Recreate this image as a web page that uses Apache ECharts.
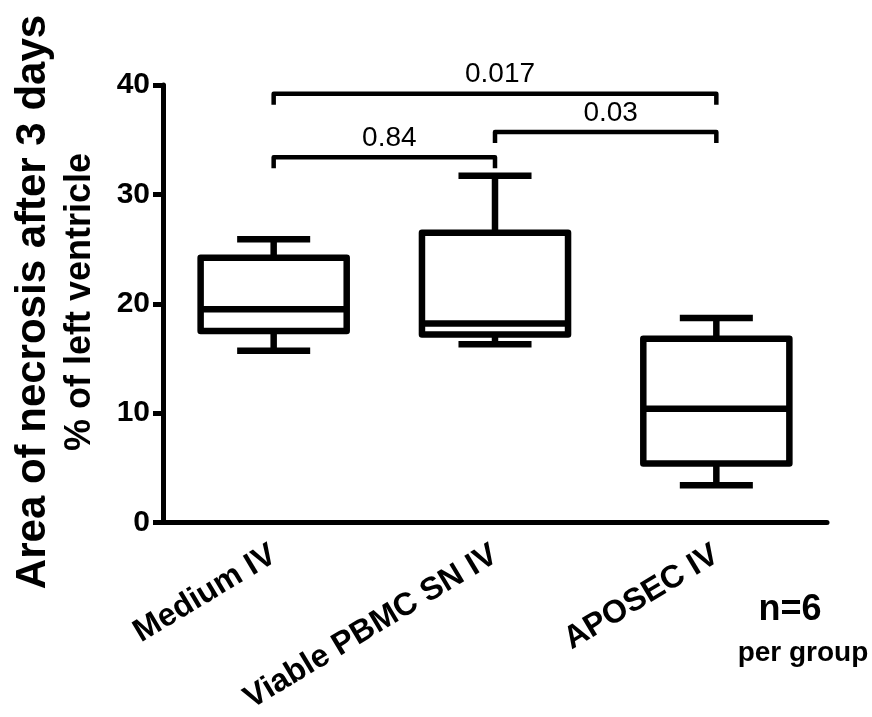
<!DOCTYPE html>
<html>
<head>
<meta charset="utf-8">
<script src="https://cdn.jsdelivr.net/npm/echarts@6/dist/echarts.min.js"></script>
<style>
  html, body { margin: 0; padding: 0; background: #fff; }
  #grafik { width: 872px; height: 717px; }
</style>
</head>
<body>
<div id="grafik"></div>
<script>
var groups = ['Medium IV', 'Viable PBMC SN IV', 'APOSEC IV'];
// min, q1, median, q3, max per group
var whiskerLow = [15.7, 16.3, 3.4];
var boxLow = [17.5, 17.2, 5.4];
var medians = [19.5, 18.2, 10.4];
var boxHigh = [24.2, 26.5, 16.8];
var whiskerHigh = [25.9, 31.7, 18.7];

// p-value brackets
var bracketFrom = [0, 1, 0];
var bracketTo = [1, 2, 2];
var bracketY = [33.4, 35.7, 39.2];
var bracketText = ['0.84', '0.03', '0.017'];

var font = '"Liberation Sans", Arial, sans-serif';
var grafik = echarts.init(document.getElementById('grafik'));

var boxData = groups.map(function (g, i) {
  return [i, whiskerLow[i], boxLow[i], medians[i], boxHigh[i], whiskerHigh[i]];
});
var bracketData = bracketText.map(function (t, i) {
  return [bracketFrom[i], bracketTo[i], bracketY[i]];
});

function renderBox(params, api) {
  var x = api.value(0);
  var band = api.size([1, 0])[0];
  var half = band * 0.33;
  var cap = half / 2;
  var lo = api.coord([x, api.value(1)]);
  var q1 = api.coord([x, api.value(2)]);
  var md = api.coord([x, api.value(3)]);
  var q3 = api.coord([x, api.value(4)]);
  var hi = api.coord([x, api.value(5)]);
  var cx = lo[0];
  var st = { stroke: '#000', lineWidth: 6.5, fill: null };
  return {
    type: 'group',
    children: [
      { type: 'line', shape: { x1: cx, y1: q1[1], x2: cx, y2: lo[1] }, style: st },
      { type: 'line', shape: { x1: cx - cap, y1: lo[1], x2: cx + cap, y2: lo[1] }, style: st },
      { type: 'line', shape: { x1: cx, y1: q3[1], x2: cx, y2: hi[1] }, style: st },
      { type: 'line', shape: { x1: cx - cap, y1: hi[1], x2: cx + cap, y2: hi[1] }, style: st },
      { type: 'rect', shape: { x: cx - half, y: q3[1], width: half * 2, height: q1[1] - q3[1] },
        style: { stroke: '#000', lineWidth: 6.5, fill: '#fff', lineJoin: 'round' } },
      { type: 'line', shape: { x1: cx - half, y1: md[1], x2: cx + half, y2: md[1] }, style: st }
    ]
  };
}

function renderBracket(params, api) {
  var a = api.coord([api.value(0), api.value(2)]);
  var b = api.coord([api.value(1), api.value(2)]);
  var drop = 11;
  return {
    type: 'group',
    children: [
      { type: 'polyline',
        shape: { points: [[a[0], a[1] + drop], a, b, [b[0], b[1] + drop]] },
        style: { stroke: '#000', lineWidth: 4.5, fill: null, lineJoin: 'round' } },
      { type: 'text', x: (a[0] + b[0]) / 2 + 5, y: a[1] - 5,
        style: { text: bracketText[params.dataIndex], font: '28px ' + font,
                 fill: '#000', align: 'center', verticalAlign: 'bottom' } }
    ]
  };
}

var option = {
  animation: false,
  grid: { left: 163, right: 45, top: 85, bottom: 194.5 },
  xAxis: {
    type: 'category',
    data: groups,
    axisLine: { lineStyle: { color: '#000', width: 5 } },
    axisTick: { alignWithLabel: true, length: 10, lineStyle: { color: '#000', width: 4.5 } },
    axisLabel: { rotate: 31, margin: 30, color: '#000', fontSize: 32, fontWeight: 'bold', fontFamily: font },
    splitLine: { show: false }
  },
  yAxis: {
    type: 'value',
    min: 0,
    max: 40,
    interval: 10,
    axisLine: { show: true, lineStyle: { color: '#000', width: 5 } },
    axisTick: { show: true, length: 10, lineStyle: { color: '#000', width: 5 } },
    axisLabel: { margin: 13, color: '#000', fontSize: 30, fontWeight: 'bold', fontFamily: font },
    splitLine: { show: false }
  },
  graphic: [
    { type: 'text', x: 33, y: 302, rotation: Math.PI / 2,
      style: { text: 'Area of necrosis after 3 days', font: 'bold 42px ' + font, fill: '#000',
               align: 'center', verticalAlign: 'middle' } },
    { type: 'text', x: 80, y: 302, rotation: Math.PI / 2,
      style: { text: '% of left ventricle', font: 'bold 36px ' + font, fill: '#000',
               align: 'center', verticalAlign: 'middle' } },
    { type: 'text', x: 790, y: 610,
      style: { text: 'n=6', font: 'bold 36px ' + font, fill: '#000', align: 'center', verticalAlign: 'middle' } },
    { type: 'text', x: 803, y: 653,
      style: { text: 'per group', font: 'bold 28px ' + font, fill: '#000', align: 'center', verticalAlign: 'middle' } }
  ],
  series: [
    {
      type: 'custom',
      renderItem: renderBox,
      data: boxData,
      encode: { x: 0, y: [1, 2, 3, 4, 5] },
      clip: false,
      z: 3
    },
    {
      type: 'custom',
      renderItem: renderBracket,
      data: bracketData,
      encode: { x: [0, 1], y: 2 },
      clip: false,
      z: 4
    }
  ]
};
grafik.setOption(option);
</script>
</body>
</html>
